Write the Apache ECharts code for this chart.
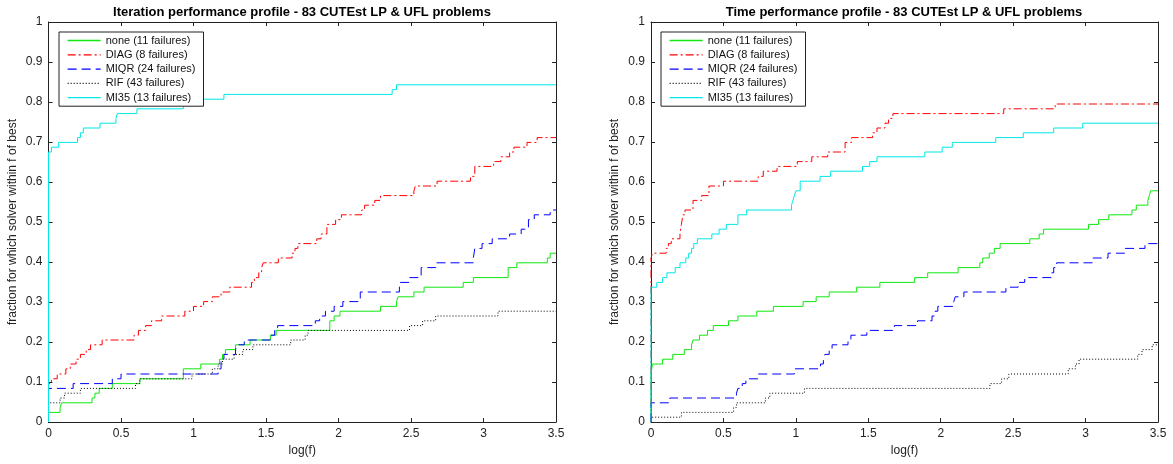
<!DOCTYPE html>
<html>
<head>
<meta charset="utf-8">
<script src="https://cdn.jsdelivr.net/npm/echarts@6/dist/echarts.min.js"></script>
<style>
  html, body { margin: 0; padding: 0; background: #fff; }
  #chart { width: 1173px; height: 464px; }
</style>
</head>
<body>
<div id="chart"></div>
<script>
// series names shown in both legends
const names = ["none (11 failures)", "DIAG (8 failures)", "MIQR (24 failures)", "RIF (43 failures)", "MI35 (13 failures)"];
const xTicks = { min: 0, max: 3.5, step: 0.5 };
const yTicks = { min: 0, max: 1, step: 0.1 };

// Iteration profile: [log(f), fraction] step points
const iterNone = [[0,0],[0,0.024],[0.08,0.036],[0.09,0.048],[0.30,0.060],[0.32,0.072],[0.35,0.084],[0.44,0.096],[0.63,0.108],[0.93,0.133],[1.05,0.145],[1.18,0.157],[1.20,0.169],[1.22,0.181],[1.29,0.193],[1.39,0.205],[1.53,0.217],[1.57,0.229],[1.94,0.253],[1.97,0.265],[2.01,0.277],[2.29,0.289],[2.40,0.301],[2.41,0.313],[2.52,0.325],[2.59,0.337],[2.86,0.349],[2.93,0.361],[3.17,0.386],[3.23,0.398],[3.44,0.410],[3.46,0.422],[3.5,0.422]];
const iterDiag = [[0,0],[0,0.096],[0.02,0.108],[0.06,0.120],[0.12,0.133],[0.15,0.145],[0.19,0.157],[0.22,0.169],[0.26,0.181],[0.29,0.193],[0.37,0.205],[0.59,0.217],[0.62,0.229],[0.67,0.241],[0.71,0.253],[0.78,0.265],[0.94,0.277],[1.0,0.289],[1.07,0.301],[1.13,0.313],[1.19,0.325],[1.25,0.337],[1.40,0.349],[1.42,0.361],[1.45,0.373],[1.47,0.386],[1.48,0.398],[1.585,0.410],[1.68,0.422],[1.70,0.434],[1.72,0.446],[1.85,0.458],[1.88,0.470],[1.92,0.494],[1.98,0.506],[2.02,0.518],[2.16,0.530],[2.18,0.542],[2.25,0.554],[2.29,0.566],[2.52,0.578],[2.53,0.590],[2.68,0.602],[2.91,0.614],[2.94,0.639],[3.07,0.651],[3.12,0.663],[3.18,0.675],[3.21,0.687],[3.30,0.699],[3.37,0.711],[3.5,0.711]];
const iterMiqr = [[0,0],[0,0.084],[0.17,0.096],[0.44,0.108],[0.50,0.120],[1.17,0.133],[1.19,0.157],[1.21,0.169],[1.29,0.181],[1.30,0.193],[1.35,0.205],[1.53,0.217],[1.56,0.229],[1.58,0.241],[1.84,0.253],[1.87,0.265],[1.91,0.277],[1.97,0.289],[2.03,0.301],[2.15,0.325],[2.42,0.349],[2.49,0.361],[2.57,0.386],[2.67,0.398],[2.93,0.410],[2.94,0.434],[2.99,0.446],[3.06,0.458],[3.18,0.470],[3.26,0.482],[3.31,0.506],[3.35,0.518],[3.46,0.530],[3.5,0.530]];
const iterRif = [[0,0],[0,0.048],[0.08,0.060],[0.11,0.072],[0.22,0.084],[0.60,0.096],[0.63,0.108],[0.99,0.120],[1.13,0.133],[1.17,0.145],[1.20,0.157],[1.28,0.169],[1.34,0.181],[1.41,0.193],[1.67,0.205],[1.77,0.217],[1.79,0.229],[2.49,0.241],[2.58,0.253],[2.67,0.265],[3.10,0.277],[3.5,0.277]];
const iterMi35 = [[0,0],[0,0.675],[0.02,0.687],[0.07,0.699],[0.20,0.711],[0.22,0.723],[0.24,0.735],[0.355,0.747],[0.465,0.759],[0.475,0.771],[0.61,0.783],[0.93,0.795],[1.05,0.807],[1.21,0.819],[2.37,0.831],[2.40,0.843],[3.5,0.843]];

// Time profile
const timeNone = [[0,0],[0,0.120],[0.01,0.145],[0.08,0.157],[0.15,0.169],[0.23,0.181],[0.28,0.193],[0.29,0.205],[0.335,0.217],[0.39,0.229],[0.43,0.241],[0.535,0.253],[0.60,0.265],[0.73,0.277],[0.845,0.289],[1.05,0.301],[1.14,0.313],[1.23,0.325],[1.42,0.337],[1.58,0.349],[1.82,0.361],[1.91,0.373],[2.12,0.386],[2.27,0.398],[2.29,0.410],[2.335,0.422],[2.37,0.434],[2.41,0.446],[2.615,0.458],[2.68,0.470],[2.71,0.482],[3.02,0.494],[3.09,0.506],[3.16,0.518],[3.32,0.530],[3.35,0.542],[3.43,0.554],[3.44,0.566],[3.45,0.578],[3.5,0.578]];
const timeDiag = [[0,0],[0,0.410],[0.01,0.422],[0.105,0.434],[0.12,0.446],[0.14,0.458],[0.20,0.470],[0.21,0.494],[0.22,0.518],[0.235,0.530],[0.29,0.554],[0.35,0.566],[0.40,0.590],[0.50,0.602],[0.74,0.614],[0.775,0.627],[0.87,0.639],[1.01,0.651],[1.11,0.663],[1.22,0.675],[1.34,0.699],[1.385,0.711],[1.53,0.723],[1.56,0.735],[1.615,0.747],[1.64,0.759],[1.67,0.771],[2.435,0.783],[2.79,0.795],[3.5,0.795]];
const timeMiqr = [[0,0],[0,0.048],[0.13,0.060],[0.59,0.072],[0.60,0.084],[0.63,0.096],[0.655,0.108],[0.74,0.120],[0.99,0.133],[1.17,0.145],[1.19,0.157],[1.20,0.169],[1.23,0.181],[1.25,0.193],[1.36,0.205],[1.38,0.217],[1.49,0.229],[1.68,0.241],[1.84,0.253],[1.94,0.265],[1.96,0.277],[1.98,0.289],[2.09,0.301],[2.10,0.313],[2.16,0.325],[2.45,0.337],[2.535,0.349],[2.58,0.361],[2.765,0.373],[2.78,0.386],[2.80,0.398],[3.05,0.410],[3.155,0.422],[3.27,0.434],[3.41,0.446],[3.5,0.446]];
const timeRif = [[0,0],[0,0.012],[0.21,0.024],[0.57,0.036],[0.59,0.048],[0.79,0.060],[0.82,0.072],[1.06,0.084],[2.34,0.096],[2.42,0.108],[2.47,0.120],[2.88,0.133],[2.93,0.145],[2.955,0.157],[3.36,0.169],[3.39,0.181],[3.46,0.193],[3.5,0.193]];
const timeMi35 = [[0,0],[0,0.337],[0.04,0.349],[0.08,0.361],[0.11,0.373],[0.167,0.386],[0.20,0.398],[0.24,0.410],[0.26,0.422],[0.28,0.434],[0.295,0.446],[0.32,0.458],[0.42,0.470],[0.47,0.482],[0.52,0.494],[0.60,0.518],[0.66,0.530],[0.97,0.542],[0.98,0.554],[0.99,0.566],[1.0,0.578],[1.03,0.602],[1.167,0.614],[1.24,0.627],[1.46,0.639],[1.51,0.651],[1.56,0.663],[1.89,0.675],[2.01,0.687],[2.08,0.699],[2.38,0.711],[2.57,0.723],[2.78,0.735],[2.98,0.747],[3.5,0.747]];

const FONT = "Liberation Sans, Arial, Helvetica, sans-serif";
const styles = [
  { color: "#10e810", type: "solid" },
  { color: "#ff0000", type: [8, 3, 2, 3] },
  { color: "#0000ff", type: [9, 5] },
  { color: "#000000", type: [1, 2] },
  { color: "#00e8e8", type: "solid" },
];

const chart = echarts.init(document.getElementById("chart"), null, { renderer: "canvas" });

function xAx(grid, pos, labels) {
  return {
    type: "value", gridIndex: grid, position: pos,
    min: xTicks.min, max: xTicks.max, interval: xTicks.step,
    name: labels ? "log(f)" : "", nameLocation: "middle", nameGap: 22,
    nameTextStyle: { fontFamily: FONT, fontSize: 12, color: "#222" },
    axisLine: { show: true, onZero: false, lineStyle: { color: "#222", width: 1 } },
    axisTick: { show: true, inside: true, length: 4, lineStyle: { color: "#222" } },
    axisLabel: { show: labels, margin: 6, fontFamily: FONT, fontSize: 12, color: "#222" },
    splitLine: { show: false },
  };
}
function yAx(grid, pos, labels) {
  return {
    type: "value", gridIndex: grid, position: pos,
    min: yTicks.min, max: yTicks.max, interval: yTicks.step,
    name: labels ? "fraction for which solver within f of best" : "",
    nameLocation: "middle", nameGap: 30,
    nameTextStyle: { fontFamily: FONT, fontSize: 12, color: "#222" },
    axisLine: { show: true, onZero: false, lineStyle: { color: "#222", width: 1 } },
    axisTick: { show: true, inside: true, length: 4, lineStyle: { color: "#222" } },
    axisLabel: { show: labels, margin: 6, fontFamily: FONT, fontSize: 12, color: "#222" },
    splitLine: { show: false },
  };
}

function makeSeries(list, axisIdx) {
  return list.map((d, i) => ({
    name: names[i], type: "line", step: "end",
    xAxisIndex: axisIdx, yAxisIndex: axisIdx,
    data: d, symbol: "none", showSymbol: false,
    lineStyle: { color: styles[i].color, width: 1, type: styles[i].type },
    itemStyle: { color: styles[i].color },
    z: 2 + i,
  }));
}

function legend(left) {
  return {
    data: names, orient: "vertical", left: left, top: 32,
    backgroundColor: "#fff", borderColor: "#222", borderWidth: 1,
    padding: [3, 8, 3, 8], itemWidth: 33, itemHeight: 10, itemGap: 3.3,
    itemStyle: { opacity: 0 },
    lineStyle: { width: 1.3 },
    textStyle: { fontFamily: FONT, fontSize: 11, color: "#111" },
    selectedMode: false, z: 20,
  };
}

chart.setOption({
  animation: false,
  title: [
    { text: "Iteration performance profile - 83 CUTEst LP & UFL problems", left: 302, top: 6, textAlign: "center", padding: 0,
      textStyle: { fontFamily: FONT, fontSize: 13, fontWeight: "bold", color: "#000" } },
    { text: "Time performance profile - 83 CUTEst LP & UFL problems", left: 904, top: 6, textAlign: "center", padding: 0,
      textStyle: { fontFamily: FONT, fontSize: 13, fontWeight: "bold", color: "#000" } },
  ],
  legend: [legend(59), legend(661)],
  grid: [
    { left: 48.5, width: 507.5, top: 22, height: 400, containLabel: false },
    { left: 651, width: 507, top: 22, height: 400, containLabel: false },
  ],
  xAxis: [xAx(0, "bottom", true), xAx(0, "top", false), xAx(1, "bottom", true), xAx(1, "top", false)],
  yAxis: [yAx(0, "left", true), yAx(0, "right", false), yAx(1, "left", true), yAx(1, "right", false)],
  series: [
    ...makeSeries([iterNone, iterDiag, iterMiqr, iterRif, iterMi35], 0),
    ...makeSeries([timeNone, timeDiag, timeMiqr, timeRif, timeMi35], 2),
  ],
});
</script>
</body>
</html>
